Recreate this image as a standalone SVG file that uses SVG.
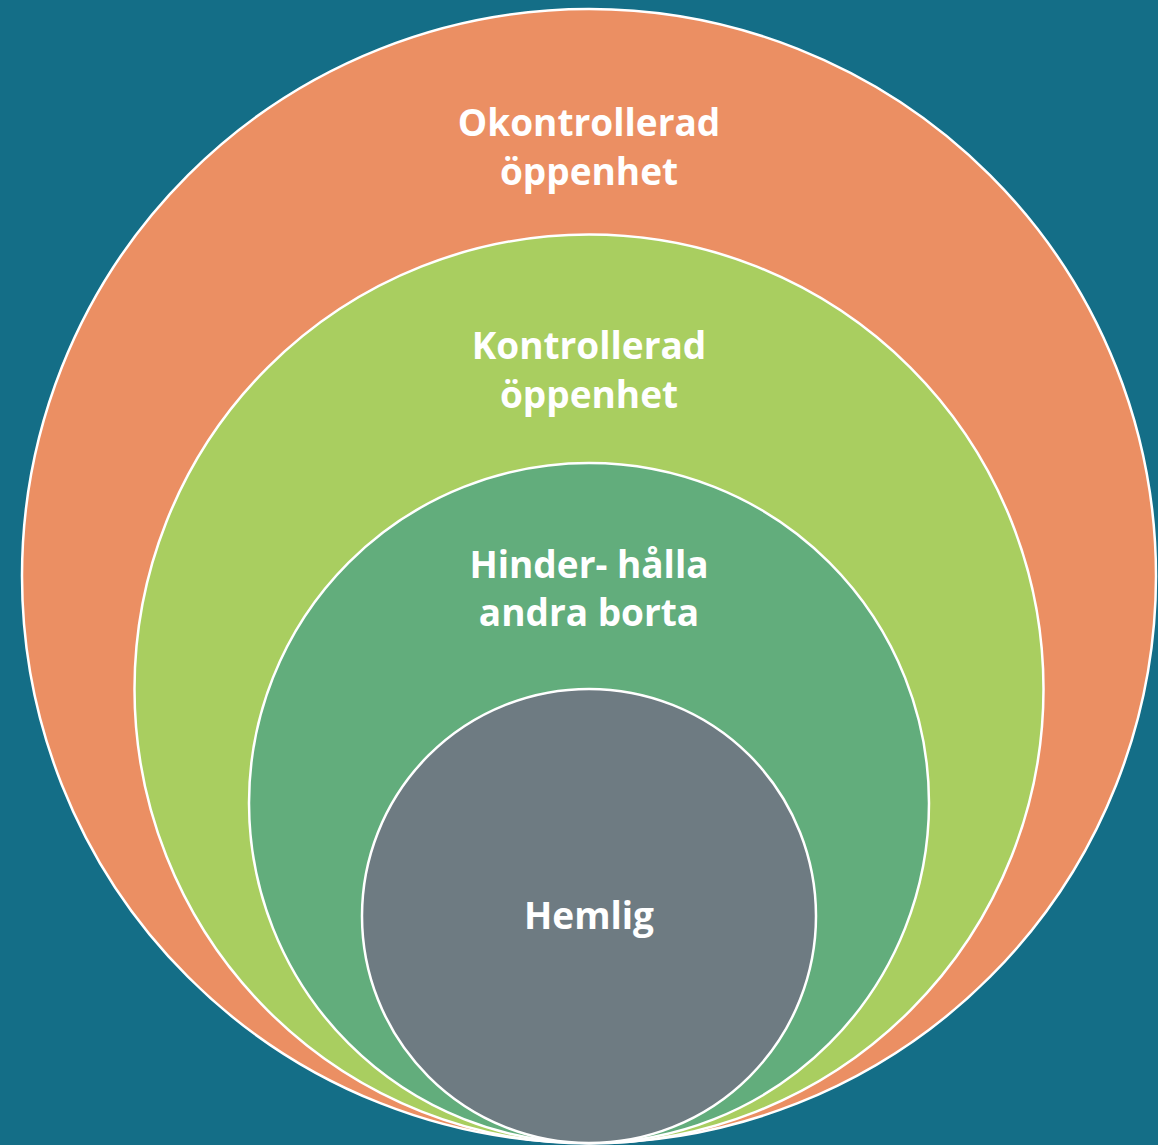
<svg xmlns="http://www.w3.org/2000/svg" width="1158" height="1145" viewBox="0 0 1158 1145">
<style>
.c{stroke:#FFFFFF;stroke-width:2.5}
.t{font-family:"Open Sans","Liberation Sans",sans-serif;font-weight:700;font-size:37px;fill:#FFFFFF;text-anchor:middle}
</style>
<rect x="0" y="0" width="1158" height="1145" fill="#146E87"/>
<g id="okontrollerad">
<circle class="c" cx="589" cy="576" r="567" fill="#EB8F63"/>
<text class="t" x="589" y="136">Okontrollerad</text>
<text class="t" x="589" y="185">öppenhet</text>
</g>
<g id="kontrollerad">
<circle class="c" cx="589" cy="689" r="454.5" fill="#A9CE60"/>
<text class="t" x="589" y="359">Kontrollerad</text>
<text class="t" x="589" y="408">öppenhet</text>
</g>
<g id="hinder">
<circle class="c" cx="589" cy="803" r="340" fill="#62AD7C"/>
<text class="t" x="589" y="578">Hinder- hålla</text>
<text class="t" x="589" y="626">andra borta</text>
</g>
<g id="hemlig">
<circle class="c" cx="589" cy="916" r="227" fill="#6E7B82"/>
<text class="t" x="589" y="929">Hemlig</text>
</g>
<g id="connectors"/>
</svg>
